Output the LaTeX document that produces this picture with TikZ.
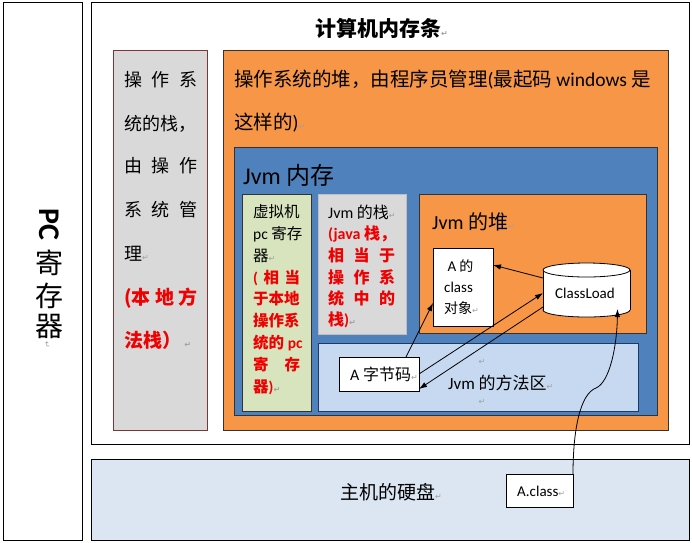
\documentclass[tikz,border=0pt]{standalone}
\usepackage{fontspec}
\setmainfont{Noto Sans CJK SC}
\newfontfamily\lat{Carlito}
\newfontfamily\djv{DejaVu Sans}
\usetikzlibrary{arrows.meta,shapes.geometric}
\definecolor{ora}{HTML}{F79646}
\definecolor{jblue}{HTML}{4F81BD}
\definecolor{gbox}{HTML}{D9D9D9}
\definecolor{gre}{HTML}{D7E4BD}
\definecolor{lblue}{HTML}{C6D9F1}
\definecolor{disk}{HTML}{DCE6F2}
\definecolor{redt}{HTML}{F00000}
\definecolor{brd}{HTML}{7F3535}
\definecolor{navy}{HTML}{1F3864}
\definecolor{retc}{HTML}{A0A0A0}
\newcommand\fsz[1]{\fontsize{#1}{#1}\selectfont}
\newcommand\retmark{{\djv\fontsize{8}{8}\selectfont\textcolor{retc}{↵}}}
\tikzset{
  box/.style={draw, anchor=north west, inner sep=0pt, outer sep=0pt, line width=0.8pt},
  tx/.style={anchor=west, inner sep=0pt},
  rd/.style={text=redt},
  arr/.style={line width=0.8pt, -{Latex[length=8pt,width=5.5pt]}}
}
\begin{document}
\begin{tikzpicture}[x=1pt,y=-1pt]
\useasboundingbox (0,0) rectangle (692,542);
\fill[white] (0,0) rectangle (692,542);
% PC register
\node[box, fill=white, minimum width=79, minimum height=538] (pc) at (3,2) {};
\node[inner sep=0pt, rotate=-90, font=\lat\bfseries\fsz{30}] (pct) at (49,224) {PC};
\node[inner sep=0pt, font=\fsz{28}] (pc1) at (49,263) {寄};
\node[inner sep=0pt, font=\fsz{28}] (pc2) at (49,296) {存};
\node[inner sep=0pt, font=\fsz{28}] (pc3) at (49,326) {器};
\node[inner sep=0pt, rotate=-90] (pc4) at (47,345) {\retmark};
% memory stick
\node[box, fill=white, minimum width=598, minimum height=442] (mem) at (91,2) {};
\node[tx, font=\bfseries\fsz{21}] (title) at (315,28) {计算机内存条\retmark};
% OS stack
\node[box, fill=gbox, draw=brd, minimum width=94, minimum height=380] (gs) at (113,50) {};
\node[tx, font=\fsz{18}] (g1) at (124,80) {\makebox[73pt][s]{操 作 系}};
\node[tx, font=\fsz{18}] (g2) at (124,124) {统的栈，};
\node[tx, font=\fsz{18}] (g3) at (124,166) {\makebox[73pt][s]{由 操 作}};
\node[tx, font=\fsz{18}] (g4) at (124,210) {\makebox[73pt][s]{系 统 管}};
\node[tx, font=\fsz{18}] (g5) at (124,254) {理\retmark};
\node[tx, rd, font=\bfseries\fsz{19}] (g6) at (124,298) {\makebox[73pt][s]{(本 地 方}};
\node[tx, rd, font=\bfseries\fsz{19}] (g7) at (124,340) {法栈）\,\retmark};
% OS heap
\node[box, fill=ora, draw=black!80, minimum width=445, minimum height=380] (oh) at (223,50) {};
\node[tx, font=\fsz{19.5}] (o1) at (234,80) {操作系统的堆，由程序员管理{\lat(}最起码 {\lat windows} 是};
\node[tx, font=\fsz{19.5}] (o2) at (234,123) {这样的{\lat)}\retmark};
% JVM memory
\node[box, fill=jblue, draw=black!80, minimum width=423, minimum height=268] (jv) at (234,147) {};
\node[tx, font=\fsz{24}] (jvt) at (243,175) {{\lat Jvm} 内存};
% JVM pc register
\node[box, fill=gre, draw=black!80, minimum width=69, minimum height=217] (pcr) at (242,194) {};
\node[tx, font=\fsz{15.5}] (p1) at (253,212) {虚拟机};
\node[tx, font=\fsz{15.5}] (p2) at (253,234) {{\lat pc} 寄存};
\node[tx, font=\fsz{15.5}] (p3) at (253,256) {器\retmark};
\node[tx, rd, font=\bfseries\fsz{15.5}] (p4) at (253,278) {\makebox[47pt][s]{{\lat(} 相 当}};
\node[tx, rd, font=\bfseries\fsz{15.5}] (p5) at (253,299) {于本地};
\node[tx, rd, font=\bfseries\fsz{15.5}] (p6) at (253,321) {操作系};
\node[tx, rd, font=\bfseries\fsz{15.5}] (p7) at (253,343) {统的 {\lat pc}};
\node[tx, rd, font=\bfseries\fsz{15.5}] (p8) at (253,365) {\makebox[47pt][s]{寄 存}};
\node[tx, rd, font=\bfseries\fsz{15.5}] (p9) at (253,387) {器{\lat)}\retmark};
% JVM stack
\node[box, fill=gbox, draw=white!75!black, minimum width=88, minimum height=140] (js) at (318,194) {};
\node[tx, font=\fsz{16}] (s1) at (328,212) {{\lat Jvm} 的栈\retmark};
\node[tx, rd, font=\bfseries\fsz{16}] (s2) at (328,234) {{\lat(java} 栈，};
\node[tx, rd, font=\bfseries\fsz{16}] (s3) at (328,255) {\makebox[67pt][s]{相 当 于}};
\node[tx, rd, font=\bfseries\fsz{16}] (s4) at (328,277) {\makebox[67pt][s]{操 作 系}};
\node[tx, rd, font=\bfseries\fsz{16}] (s5) at (328,298) {\makebox[67pt][s]{统 中 的}};
\node[tx, rd, font=\bfseries\fsz{16}] (s6) at (328,320) {栈{\lat)}\retmark};
% JVM heap
\node[box, fill=ora, draw=black!80, minimum width=227, minimum height=139] (jh) at (419,194) {};
\node[tx, font=\fsz{20}] (jht) at (432,222) {{\lat Jvm} 的堆\retmark};
\node[box, fill=white, minimum width=60, minimum height=78] (ao) at (433,248) {};
\node[tx, font=\fsz{14}] (a1) at (444,266) {{\lat\fsz{15} A} 的};
\node[tx, font=\lat\fsz{15}] (a2) at (444,287) {class};
\node[tx, font=\fsz{14}] (a3) at (444,308) {对象\retmark};
% ClassLoad cylinder
\node[inner sep=0pt, outer sep=0pt, minimum width=87, minimum height=54] (cl) at (586.5,290) {};
\fill[white] (543,270) rectangle (630,310);
\filldraw[fill=white, line width=0.8pt] (586.5,310) ellipse [x radius=43.5, y radius=7];
\fill[white] (543,270) rectangle (630,310);
\draw[line width=0.8pt] (543,270) -- (543,310) (630,270) -- (630,310);
\filldraw[fill=white, line width=0.8pt] (586.5,270) ellipse [x radius=43.5, y radius=7];
\node[inner sep=0pt, font=\lat\fsz{15}] (clt) at (585,293) {ClassLoad};
% method area
\node[box, fill=lblue, draw=navy, minimum width=320, minimum height=68] (ma) at (318,343) {};
\node[tx, font=\fsz{17}] (mat) at (448,383) {{\lat Jvm} 的方法区\retmark};
\node[inner sep=0pt] (mr1) at (482,362) {\retmark};
\node[inner sep=0pt] (mr2) at (482,402) {\retmark};
\node[box, fill=white, minimum width=80, minimum height=34] (ab) at (339,357) {};
\node[tx, font=\fsz{16}] (abt) at (350,374) {{\lat A} 字节码\retmark};
% hard disk
\node[box, fill=disk, minimum width=598, minimum height=81] (hd) at (91,459) {};
\node[tx, font=\fsz{19}] (hdt) at (340,492) {主机的硬盘\retmark};
\node[box, fill=white, minimum width=67, minimum height=33] (ac) at (506,474) {};
\node[tx, font=\lat\fsz{15}] (act) at (517,491) {A.class\retmark};
% arrows
\draw[arr] ([xshift=27pt]ab.north) -- ([yshift=-16pt]ao.west);
\draw[arr] (ab.east) -- ([yshift=-3pt]cl.west);
\draw[arr] ([yshift=-17pt]cl.west) -- ([yshift=-15pt]ab.east);
\draw[arr] ([yshift=12pt]cl.west) -- ([yshift=22pt]ao.east);
\draw[arr] (ac.north east) .. controls (573,430) and (580,394) .. (596,388)
  .. controls (610,382) and (617,345) .. ([xshift=31pt,yshift=8pt]cl.south);
\end{tikzpicture}
\end{document}
